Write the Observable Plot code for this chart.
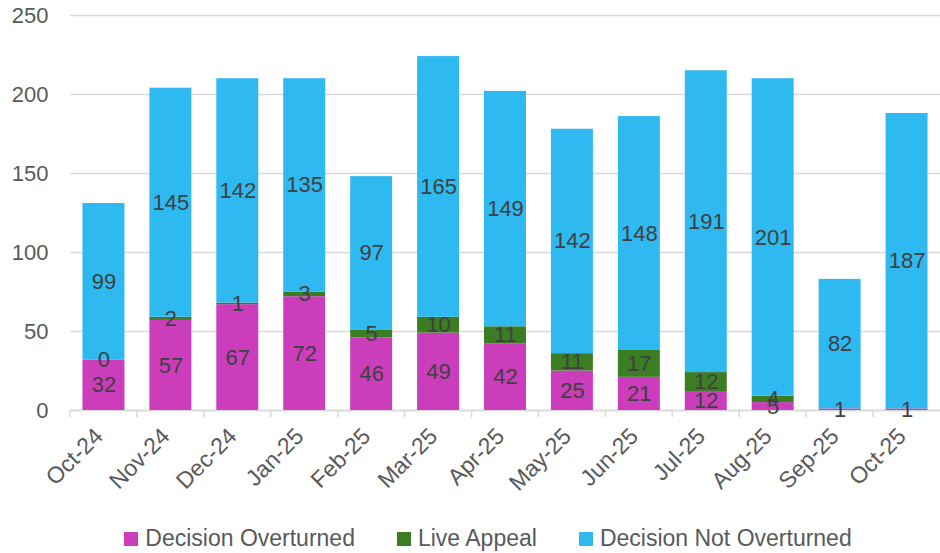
<!DOCTYPE html>
<html>
<head>
<meta charset="utf-8">
<script src="https://cdn.jsdelivr.net/npm/d3@7"></script>
<script src="https://cdn.jsdelivr.net/npm/@observablehq/plot@0.6"></script>
<style>
  body { margin: 0; background: #fff; font-family: "Liberation Sans", Arial, sans-serif; }
  #legend { display: flex; justify-content: center; align-items: center; height: 29px; padding-left: 36px; box-sizing: border-box; width: 940px; color: #595959; font-size: 23px; }
  .item { display: flex; align-items: center; margin: 0 21px; }
  .sw { width: 14px; height: 14px; margin-right: 7px; }
</style>
</head>
<body>
<div id="chart"></div>
<div id="legend"></div>
<script>
const months = ["Oct-24","Nov-24","Dec-24","Jan-25","Feb-25","Mar-25","Apr-25","May-25","Jun-25","Jul-25","Aug-25","Sep-25","Oct-25"];
const series = ["Decision Overturned", "Live Appeal", "Decision Not Overturned"];
const colors = ["#CB3DBB", "#3B7D23", "#2EB9F0"];
const overturned    = [32, 57, 67, 72, 46, 49, 42, 25, 21, 12, 5, 1, 1];
const liveAppeal    = [0, 2, 1, 3, 5, 10, 11, 11, 17, 12, 4, null, null];
const notOverturned = [99, 145, 142, 135, 97, 165, 149, 142, 148, 191, 201, 82, 187];
const yTicks = [0, 50, 100, 150, 200, 250];

const seriesValues = [overturned, liveAppeal, notOverturned];
const data = [];
months.forEach((m, i) => {
  series.forEach((s, j) => {
    const v = seriesValues[j][i];
    if (v != null) data.push({month: m, series: s, value: v});
  });
});

const padIn = 0.373;
const boundaryTicks = (index, scales, values, dimensions) => {
  const x = scales.x, y = scales.y;
  const step = x(months[1]) - x(months[0]);
  const g = d3.create("svg:g");
  const y0 = y(0);
  months.forEach(m => {
    const bx = x(m) - step * padIn / 2;
    g.append("line").attr("x1", bx).attr("x2", bx).attr("y1", y0).attr("y2", y0 + 7)
      .attr("stroke", "#d9d9d9").attr("stroke-width", 1.5);
  });
  return g.node();
};

const chart = Plot.plot({
  width: 940,
  height: 524,
  marginLeft: 70,
  marginRight: 0,
  marginTop: 15,
  marginBottom: 114,
  style: { fontFamily: "Liberation Sans, Arial, sans-serif", background: "#fff" },
  x: { domain: months, paddingInner: padIn, paddingOuter: padIn / 2, round: false, label: null },
  y: { domain: [0, 250], label: null },
  color: { domain: series, range: colors },
  marks: [
    Plot.gridY(yTicks, { stroke: "#d9d9d9", strokeOpacity: 1, strokeWidth: 1.5 }),
    Plot.ruleY([0], { stroke: "#d9d9d9", strokeWidth: 1.5 }),
    boundaryTicks,
    Plot.barY(data, Plot.stackY({ x: "month", y: "value", z: "series", fill: "series", order: series })),
    Plot.text(data, Plot.stackY({ x: "month", y: "value", z: "series", order: series, text: d => String(d.value), fill: "#404040", fontSize: 22 })),
    Plot.axisY(yTicks, { tickSize: 0, tickPadding: 0, dx: -22, fontSize: 22, fill: "#595959", label: null }),
    Plot.axisX({ tickSize: 0, tickRotate: -45, fontSize: 23, fill: "#595959", tickPadding: 22, dx: -5, label: null })
  ]
});
document.getElementById("chart").appendChild(chart);

const legend = document.getElementById("legend");
series.forEach((s, i) => {
  const it = document.createElement("div");
  it.className = "item";
  const sw = document.createElement("div");
  sw.className = "sw";
  sw.style.background = colors[i];
  const t = document.createElement("span");
  t.textContent = s;
  it.appendChild(sw); it.appendChild(t);
  legend.appendChild(it);
});
</script>
</body>
</html>
